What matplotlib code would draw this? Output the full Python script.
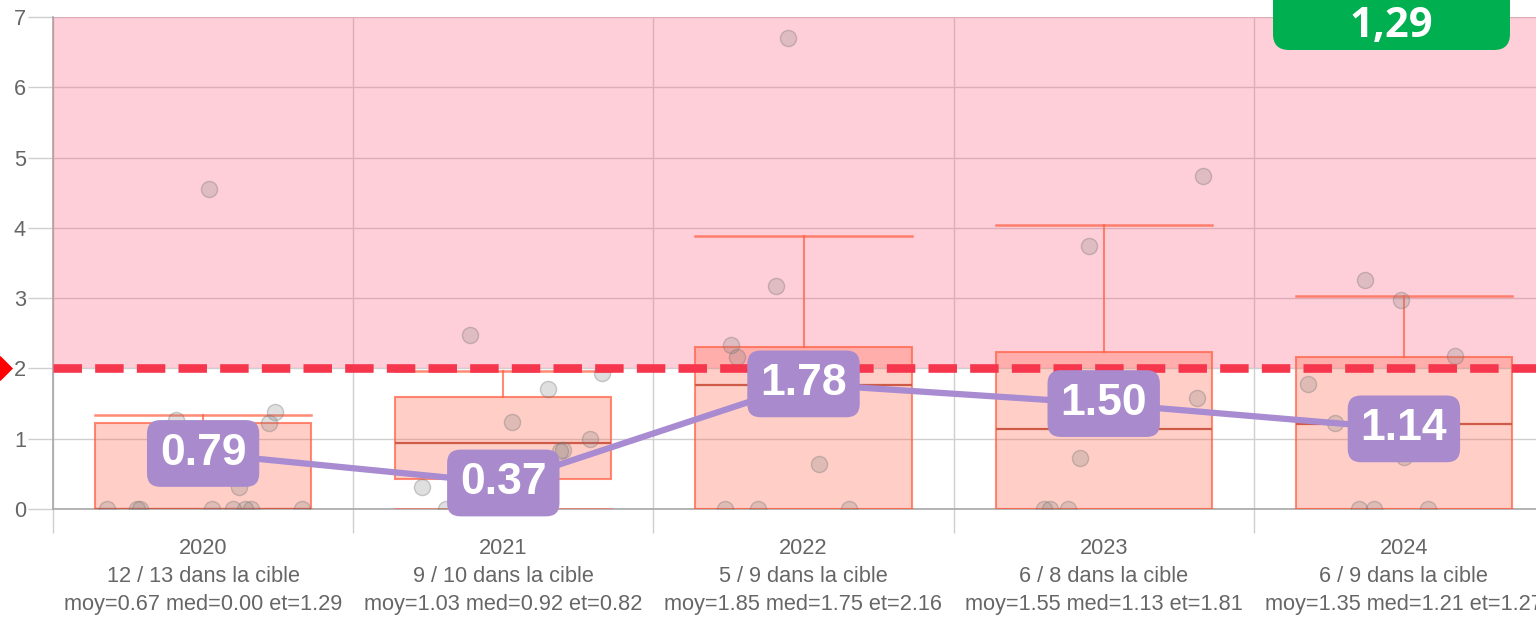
import matplotlib
matplotlib.use('Agg')
import matplotlib.pyplot as plt
import matplotlib.transforms as mtransforms
from matplotlib.patches import FancyBboxPatch

plt.rcParams['font.family'] = ['Liberation Sans', 'DejaVu Sans']
plt.rcParams['lines.scale_dashes'] = False

# ---------------- data ----------------
years = ['2020', '2021', '2022', '2023', '2024']
in_target = ['12 / 13 dans la cible', '9 / 10 dans la cible', '5 / 9 dans la cible',
             '6 / 8 dans la cible', '6 / 9 dans la cible']
stats_text = ['moy=0.67 med=0.00 et=1.29', 'moy=1.03 med=0.92 et=0.82',
              'moy=1.85 med=1.75 et=2.16', 'moy=1.55 med=1.13 et=1.81',
              'moy=1.35 med=1.21 et=1.27']

values_2020 = [4.55, 1.27, 1.22, 1.38, 0.31, 0, 0, 0, 0, 0, 0, 0, 0]
jitter_2020 = [0.02, -0.09, 0.22, 0.24, 0.12, -0.32, -0.22, -0.21, 0.03, 0.10, 0.14, 0.16, 0.33]
values_2021 = [2.47, 1.93, 1.71, 1.24, 1.00, 0.84, 0.82, 0.31, 0, 0]
jitter_2021 = [-0.11, 0.33, 0.15, 0.03, 0.29, 0.20, 0.19, -0.27, -0.19, 0.0]
values_2022 = [6.70, 3.17, 2.33, 2.16, 1.75, 0.64, 0, 0, 0]
jitter_2022 = [-0.05, -0.09, -0.24, -0.22, 0.0, 0.05, -0.26, -0.15, 0.15]
values_2023 = [4.74, 3.74, 1.58, 1.54, 0.72, 0, 0, 0]
jitter_2023 = [0.33, -0.05, 0.31, 0.0, -0.08, -0.20, -0.18, -0.12]
values_2024 = [3.26, 2.97, 2.18, 1.78, 1.22, 0.74, 0, 0, 0]
jitter_2024 = [-0.13, -0.01, 0.17, -0.32, -0.23, 0.0, -0.15, -0.10, 0.08]

box_q1 = [0.0, 0.43, 0.0, 0.0, 0.0]
box_med = [0.0, 0.94, 1.76, 1.14, 1.21]
box_q3 = [1.23, 1.59, 2.30, 2.23, 2.16]
whisker_lo = [0.0, 0.0, 0.0, 0.0, 0.0]
whisker_hi = [1.34, 1.97, 3.88, 4.04, 3.03]

trend = [0.79, 0.37, 1.78, 1.50, 1.14]
target = 2.0
y_top = 7
badge_value = '1,29'

all_values = [values_2020, values_2021, values_2022, values_2023, values_2024]
all_jitter = [jitter_2020, jitter_2021, jitter_2022, jitter_2023, jitter_2024]

# ---------------- figure ----------------
W, H = 1536, 620
fig = plt.figure(figsize=(W / 100, H / 100), dpi=100)
ax = fig.add_axes([53 / W, 111 / H, 1501 / W, 492 / H])

# boxes
edge_c = (1, 99 / 255, 71 / 255, 0.75)
stats = []
for i in range(len(years)):
    stats.append(dict(med=box_med[i], q1=box_q1[i], q3=box_q3[i],
                      whislo=whisker_lo[i], whishi=whisker_hi[i], fliers=[]))
ax.bxp(stats, positions=range(len(years)), widths=0.72, patch_artist=True,
       showfliers=False, manage_ticks=False,
       boxprops=dict(facecolor=(1, 99 / 255, 71 / 255, 0.3), edgecolor=edge_c, lw=1.5),
       whiskerprops=dict(color=edge_c, lw=1.5),
       capprops=dict(color=edge_c, lw=1.8),
       medianprops=dict(color='#d05a48', lw=1.6),
       capwidths=0.72, zorder=2)

ax.set_xlim(-0.5, len(years) - 0.5)
ax.set_ylim(0, y_top)

grid_c = '#cfcfcf'
ax.set_axisbelow(True)
ax.set_yticks(range(0, y_top + 1))
ax.yaxis.grid(True, color=grid_c, lw=1)
ax.set_xticks([i - 0.5 for i in range(len(years) + 1)], minor=True)
ax.xaxis.grid(True, which='minor', color=grid_c, lw=1)
ax.set_xticks(range(len(years)))
ax.set_xticklabels([f'{y}\n{t}\n{s}' for y, t, s in zip(years, in_target, stats_text)])
for t in ax.get_xticklabels():
    t.set_linespacing(1.43)
ax.tick_params(axis='x', which='major', length=0, pad=20.7, labelsize=15.7, labelcolor='#666666')
ax.tick_params(axis='x', which='minor', length=17.5, width=1, color=grid_c)
ax.tick_params(axis='y', length=18, width=1, color=grid_c, pad=1.5, labelsize=15.7, labelcolor='#666666')

for s in ['top', 'right']:
    ax.spines[s].set_visible(False)
for s in ['left', 'bottom']:
    ax.spines[s].set_color('#a8a8a8')
    ax.spines[s].set_linewidth(1.2)
    ax.spines[s].set_zorder(1.2)

# pink out-of-target band
ax.axhspan(target, y_top, color=(1, 99 / 255, 132 / 255, 0.3), lw=0, zorder=1.5)

# points
for i, (vals, jit) in enumerate(zip(all_values, all_jitter)):
    ax.scatter([i + j for j in jit], vals, s=135, facecolor=(0.5, 0.5, 0.5, 0.25),
               edgecolor=(0.45, 0.45, 0.45, 0.35), lw=1, zorder=3)

# target dashed line
ax.axhline(target, color='#f5364d', lw=6.2, dashes=(20.5, 9.5), dash_capstyle='butt', zorder=5)

# trend line and labels
ax.plot(range(len(years)), trend, color='#a88bd0', lw=4.5, zorder=6, solid_capstyle='round')
for i, v in enumerate(trend):
    ax.text(i, v, f'{v:.2f}', ha='center', va='center', fontsize=32, fontweight='bold',
            color='white', zorder=7,
            bbox=dict(boxstyle='round,pad=0.29,rounding_size=0.3', fc='#a98bcd', ec='none'))

# red diamond marker at the target on the left edge
trans = mtransforms.blended_transform_factory(fig.transFigure, ax.transData)
ax.plot([0], [target], transform=trans, ls='none',
        marker=[(0, 1), (1, 0), (0, -1), (-1, 0), (0, 1)], ms=18, color='#ff0000',
        mec='none', clip_on=False, zorder=10)

# green badge top right
badge = FancyBboxPatch((1273, H - 50), 237, 90, boxstyle='round,pad=0,rounding_size=16',
                       transform=mtransforms.IdentityTransform(), fc='#00b050', ec='none',
                       zorder=20)
fig.add_artist(badge)
fig.text((1273 + 1510) / 2 / W, (H - 37) / H, badge_value, ha='center', va='baseline',
         fontsize=30, fontweight='bold', family=['Open Sans', 'DejaVu Sans'],
         color='white', zorder=21)

fig.savefig('out.png', dpi=100)
